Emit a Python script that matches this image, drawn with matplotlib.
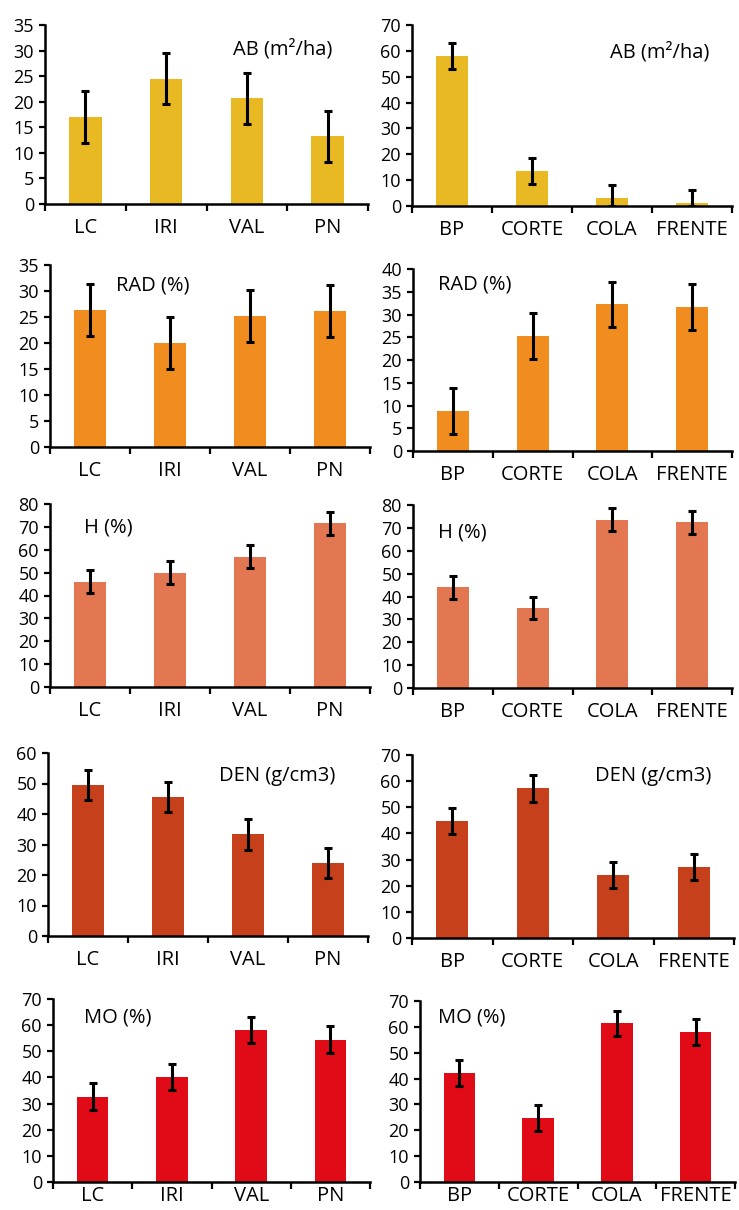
import numpy as np
import matplotlib
matplotlib.use("Agg")
import matplotlib.pyplot as plt

plt.rcParams['font.family'] = ['Open Sans', 'DejaVu Sans']

sites_left = ["LC", "IRI", "VAL", "PN"]
sites_right = ["BP", "CORTE", "COLA", "FRENTE"]

variables = ["AB (m²/ha)", "RAD (%)", "H (%)", "DEN (g/cm3)", "MO (%)"]

ab_left = [17.0, 24.5, 20.7, 13.2]
ab_right = [58.0, 13.5, 3.0, 1.0]
rad_left = [26.3, 20.0, 25.2, 26.1]
rad_right = [8.8, 25.3, 32.2, 31.6]
h_left = [46.0, 50.0, 57.0, 71.5]
h_right = [44.0, 35.0, 73.5, 72.5]
den_left = [49.5, 45.5, 33.3, 24.0]
den_right = [44.8, 57.2, 24.0, 27.2]
mo_left = [32.7, 40.2, 58.0, 54.5]
mo_right = [42.2, 24.6, 61.3, 57.9]

err = 5.0

ymax_left = [35, 35, 80, 60, 70]
ymax_right = [70, 40, 80, 70, 70]
ystep_left = [5, 5, 10, 10, 10]
ystep_right = [10, 5, 10, 10, 10]

colors = ["#E8B923", "#F18D1F", "#E27752", "#C5401B", "#E10A17"]

W, H = 739, 1210
fig = plt.figure(figsize=(W / 100, H / 100), dpi=100)

# axes boxes in pixels: (x0, x1, ytop, ybottom)
boxes_left = [(45, 368, 25, 204), (50, 370, 265, 447), (50, 370, 504, 687),
              (48, 368, 753, 936), (53, 370, 999, 1182)]
boxes_right = [(412, 732, 25, 206), (413, 732, 269, 451), (413, 732, 505, 688),
               (412, 734, 755, 938), (420, 735, 1001, 1182)]
# label centers in pixels
lab_left = [(283, 47), (153, 283), (108, 525), (277, 773), (118, 1015)]
lab_right = [(660, 50), (475, 282), (462, 530), (653, 773), (472, 1015)]
xpads = [10, 10, 10, 10, 3]

data_left = [ab_left, rad_left, h_left, den_left, mo_left]
data_right = [ab_right, rad_right, h_right, den_right, mo_right]


def make_axes(box):
    x0, x1, yt, yb = box
    return fig.add_axes([x0 / W, 1 - yb / H, (x1 - x0) / W, (yb - yt) / H])


def draw(ax, cats, vals, ymax, ystep, color, label, labpos, box, xpad):
    vals = np.array(vals)
    x = np.arange(len(cats))
    lower = np.minimum(err, vals)
    upper = np.full_like(vals, err)
    ax.bar(x, vals, width=0.4, color=color, zorder=2)
    ax.errorbar(x, vals, yerr=[lower, upper], fmt='none', ecolor='black',
                elinewidth=2.2, capsize=2.8, capthick=2.2, zorder=3)
    ax.set_xlim(-0.5, len(cats) - 0.5)
    ax.set_ylim(0, ymax)
    ax.set_yticks(np.arange(0, ymax + 0.1, ystep))
    ax.set_xticks(x)
    ax.set_xticklabels(cats, fontsize=14.5)
    ax.set_xticks(np.arange(-0.5, len(cats)), minor=True)
    ax.tick_params(axis='x', which='major', length=0, pad=xpad)
    ax.tick_params(axis='x', which='minor', length=5, width=1.6, direction='out')
    ax.tick_params(axis='y', length=4, width=1.6, direction='out', labelsize=13, pad=4)
    for lbl in ax.get_yticklabels():
        lbl.set_verticalalignment('center_baseline')
    for s in ['top', 'right']:
        ax.spines[s].set_visible(False)
    for s in ['left', 'bottom']:
        ax.spines[s].set_linewidth(1.8)
    x0, x1, yt, yb = box
    fx = (labpos[0] - x0) / (x1 - x0)
    fy = (yb - labpos[1]) / (yb - yt)
    ax.text(fx, fy, label, transform=ax.transAxes, ha='center', va='center_baseline',
            fontsize=14.5)


for i in range(5):
    axl = make_axes(boxes_left[i])
    draw(axl, sites_left, data_left[i], ymax_left[i], ystep_left[i], colors[i],
         variables[i], lab_left[i], boxes_left[i], xpads[i])
    axr = make_axes(boxes_right[i])
    draw(axr, sites_right, data_right[i], ymax_right[i], ystep_right[i], colors[i],
         variables[i], lab_right[i], boxes_right[i], xpads[i])

fig.savefig("out.png", dpi=100, facecolor='white')
